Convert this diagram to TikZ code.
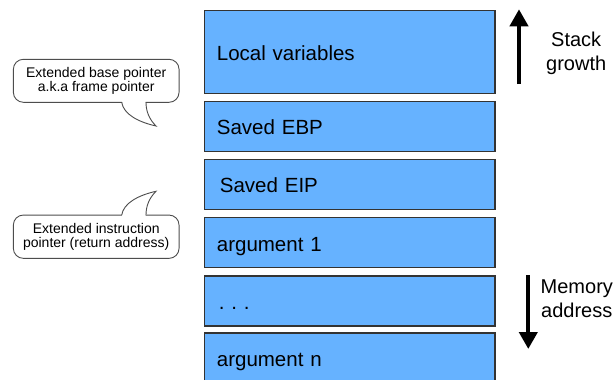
\documentclass[tikz,border=0pt]{standalone}
\usepackage{fontspec}
\setmainfont{Liberation Sans}
\usetikzlibrary{arrows.meta}
\definecolor{slotblue}{RGB}{102,178,255}
\definecolor{slotedge}{RGB}{51,51,51}
\definecolor{noteedge}{RGB}{77,77,77}
\frenchspacing
\begin{document}
\begin{tikzpicture}[x=1pt,y=-1pt,
  slot/.style={draw=slotedge, line width=1.8pt, fill=slotblue,
    minimum width=290.5pt, text width=265.5pt, inner xsep=12.5pt, inner ysep=0pt,
    align=left, text height=17pt, text depth=0pt,
    font=\fontsize{20.5}{24}\selectfont, anchor=north west},
  note/.style={draw=noteedge, line width=0.9pt, fill=white, rounded corners=10pt,
    minimum width=165.7pt, align=center, inner sep=0pt,
    font=\fontsize{14}{14.5}\selectfont},
  tail/.style={draw=noteedge, line width=0.9pt},
  side/.style={align=center, font=\fontsize{20}{24}\selectfont},
  flow/.style={line width=4pt, -{Triangle[width=18pt,length=17pt]}}
]
\useasboundingbox (0,0) rectangle (614,380);
\clip (0,0) rectangle (614,380);

% stack frame slots
\node[slot, minimum height=83pt] (locals) at (203.5,9.5)   {Local variables};
\node[slot, minimum height=50pt] (ebp)    at (203.5,100.5) {Saved EBP};
\node[slot, minimum height=50pt] (eip)    at (203.5,158.5) {\hspace*{3pt}Saved EIP};
\node[slot, minimum height=50pt] (arg1)   at (203.5,216.6) {argument 1};
\node[slot, minimum height=50pt] (dots)   at (203.5,274.7) {\hspace*{2pt}. . .};
\node[slot, minimum height=50pt] (argn)   at (203.5,332.4) {argument n};

% speech bubbles
\node[note, minimum height=43pt] (ebpnote) at (96.2,80.8)
  {Extended base pointer\\a.k.a frame pointer};
\node[note, minimum height=43.3pt] (eipnote) at (96.2,236.7)
  {Extended instruction\\pointer (return address)};

% bubble tails
\fill[white] (122.2,100.8) -- (122.2,102.3)
  .. controls (124,114) and (138,122) .. (156,126)
  .. controls (149,119) and (145.5,111) .. (145.5,102.3) -- (145.5,100.8) -- cycle;
\draw[tail] (121.7,102.3) .. controls (123.5,114) and (138,122) .. (156,126)
  .. controls (149,119) and (146,111) .. (146,102.3);

\fill[white] (122.2,216.5) -- (122.2,215)
  .. controls (124,203.3) and (138,195.3) .. (156,191.3)
  .. controls (149,198.3) and (145.5,206.3) .. (145.5,215) -- (145.5,216.5) -- cycle;
\draw[tail] (121.7,215) .. controls (123.5,203.3) and (138,195.3) .. (156,191.3)
  .. controls (149,198.3) and (146,206.3) .. (146,215);

% direction arrows
\coordinate (growfoot) at (519,84);
\coordinate (growtip)  at (519,9.3);
\draw[flow] (growfoot) -- (growtip);
\coordinate (addrtop) at (528.3,275);
\coordinate (addrtip) at (528.3,349);
\draw[flow] (addrtop) -- (addrtip);

\node[side] (growlabel) at (576.2,53.5) {Stack\\growth};
\node[side, font=\fontsize{20}{23.4}\selectfont] (addrlabel) at (576.8,298.9) {Memory\\address};
\end{tikzpicture}
\end{document}
